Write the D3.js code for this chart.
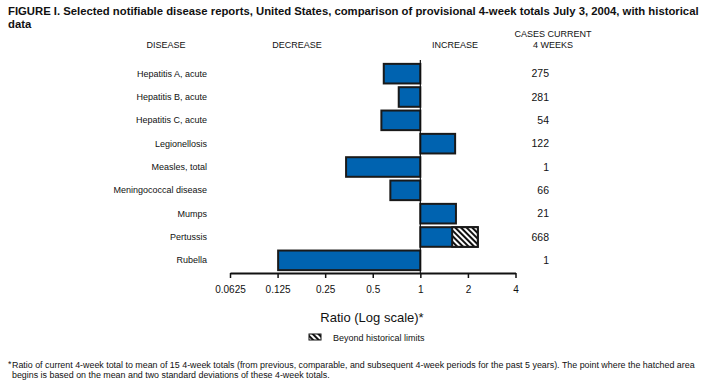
<!DOCTYPE html>
<html>
<head>
<meta charset="utf-8">
<script src="https://cdn.jsdelivr.net/npm/d3@7"></script>
<style>
  body { margin: 0; background: #fff; }
  text { font-family: "Liberation Sans Narrow", "Liberation Sans", Arial, sans-serif; fill: #111; }
</style>
</head>
<body>
<div id="chart"></div>
<script>
// data
const diseases = ['Hepatitis A, acute', 'Hepatitis B, acute', 'Hepatitis C, acute', 'Legionellosis',
  'Measles, total', 'Meningococcal disease', 'Mumps', 'Pertussis', 'Rubella'];
const ratios   = [0.587, 0.73, 0.567, 1.66, 0.339, 0.646, 1.68, 2.31, 0.126];
// where the hatched part begins (null = no hatch)
const limits   = [null, null, null, null, null, null, null, 1.59, null];
const cases    = [275, 281, 54, 122, 1, 66, 21, 668, 1];
const ticks    = [0.0625, 0.125, 0.25, 0.5, 1, 2, 4];

const width = 706, height = 388;

const svg = d3.select('#chart').append('svg')
  .attr('width', width)
  .attr('height', height);

const defs = svg.append('defs');
const pat = defs.append('pattern')
  .attr('id', 'hatch')
  .attr('patternUnits', 'userSpaceOnUse')
  .attr('width', 4).attr('height', 4)
  .attr('patternTransform', 'rotate(-45)');
pat.append('rect').attr('width', 4).attr('height', 4).attr('fill', '#fff');
pat.append('rect').attr('x', 0).attr('width', 2).attr('height', 4).attr('fill', '#111');

const x = d3.scaleLog().base(2).domain([0.0625, 4]).range([230, 515.5]);
const y = d3.scaleBand().domain(diseases).range([62, 272]).paddingInner(0.16).paddingOuter(0.08);

// title
svg.append('text').attr('x', 8).attr('y', 15)
  .style('font-weight', 'bold').style('font-size', '11.3px')
  .text('FIGURE I. Selected notifiable disease reports, United States, comparison of provisional 4-week totals July 3, 2004, with historical');
svg.append('text').attr('x', 8).attr('y', 28)
  .style('font-weight', 'bold').style('font-size', '11.3px')
  .text('data');

// column headers
const hdr = svg.append('g').style('font-size', '9px').attr('text-anchor', 'middle');
hdr.append('text').attr('x', 166).attr('y', 48).text('DISEASE');
hdr.append('text').attr('x', 297).attr('y', 48).text('DECREASE');
hdr.append('text').attr('x', 455).attr('y', 48).text('INCREASE');
hdr.append('text').attr('x', 553).attr('y', 37).text('CASES CURRENT');
hdr.append('text').attr('x', 553).attr('y', 48).text('4 WEEKS');

// bars
const rows = svg.append('g').selectAll('g')
  .data(diseases.map((d, i) => ({ name: d, ratio: ratios[i], limit: limits[i], cases: cases[i] })))
  .join('g');

rows.append('rect')
  .attr('x', d => Math.min(x(1), x(d.ratio)))
  .attr('y', d => y(d.name))
  .attr('width', d => Math.abs(x(d.ratio) - x(1)))
  .attr('height', y.bandwidth())
  .attr('fill', '#0063b0')
  .attr('stroke', '#1a1a1a')
  .attr('stroke-width', 2);

rows.filter(d => d.limit)
  .append('rect')
  .attr('x', d => x(d.limit))
  .attr('y', d => y(d.name))
  .attr('width', d => x(d.ratio) - x(d.limit))
  .attr('height', y.bandwidth())
  .attr('fill', 'url(#hatch)')
  .attr('stroke', '#1a1a1a')
  .attr('stroke-width', 2);

rows.append('text')
  .attr('x', 207)
  .attr('y', d => y(d.name) + y.bandwidth() / 2 + 3)
  .attr('text-anchor', 'end')
  .style('font-size', '9px')
  .text(d => d.name);

rows.append('text')
  .attr('x', 549)
  .attr('y', d => y(d.name) + y.bandwidth() / 2 + 3.5)
  .attr('text-anchor', 'end')
  .style('font-size', '10.5px')
  .text(d => d.cases);

// reference line at 1
svg.append('line')
  .attr('x1', x(1)).attr('x2', x(1))
  .attr('y1', 60).attr('y2', 273)
  .attr('stroke', '#111').attr('stroke-width', 1.2);

// axis
const axis = svg.append('g').attr('transform', 'translate(0,273)')
  .call(d3.axisBottom(x).tickValues(ticks).tickFormat(d => d).tickSize(5).tickSizeOuter(0));
axis.select('.domain').attr('stroke', '#111').attr('stroke-width', 2);
axis.selectAll('.tick line').attr('stroke', '#111').attr('stroke-width', 1.5);
axis.selectAll('.tick text')
  .attr('y', 13)
  .style('font-family', '"Liberation Sans Narrow", "Liberation Sans", Arial, sans-serif')
  .style('font-size', '10px').attr('fill', '#111');

svg.append('text').attr('x', 372).attr('y', 322)
  .attr('text-anchor', 'middle').style('font-size', '13px')
  .text('Ratio (Log scale)*');

// legend
svg.append('rect').attr('x', 309).attr('y', 334).attr('width', 12).attr('height', 6)
  .attr('fill', 'url(#hatch)').attr('stroke', '#111').attr('stroke-width', 1);
svg.append('text').attr('x', 333).attr('y', 341).style('font-size', '9px')
  .text('Beyond historical limits');

// footnote
const fn = svg.append('g').style('font-size', '8.9px');
fn.append('text').attr('x', 8).attr('y', 367).text('*');
fn.append('text').attr('x', 12).attr('y', 368)
  .text('Ratio of current 4-week total to mean of 15 4-week totals (from previous, comparable, and subsequent 4-week periods for the past 5 years). The point where the hatched area');
fn.append('text').attr('x', 12).attr('y', 378)
  .text('begins is based on the mean and two standard deviations of these 4-week totals.');
</script>
</body>
</html>
